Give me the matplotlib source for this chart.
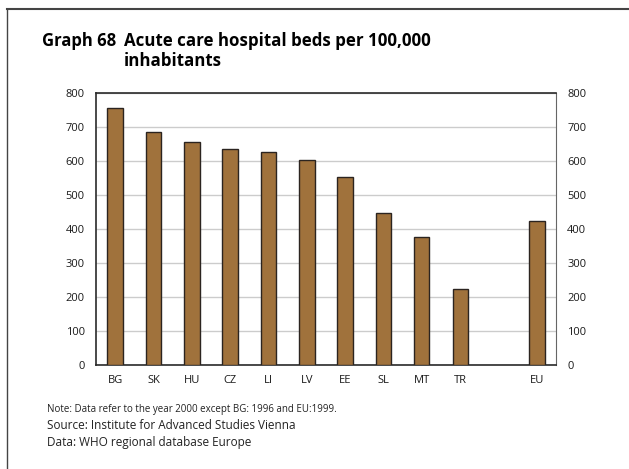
import matplotlib.pyplot as plt
import numpy as np

plt.rcParams['font.family'] = ['Open Sans', 'DejaVu Sans']

# bed counts per 100,000 inhabitants
countries = ["BG", "SK", "HU", "CZ", "LI", "LV", "EE", "SL", "MT", "TR", "EU"]
beds = [755, 686, 657, 636, 625, 602, 554, 448, 376, 223, 424]
slots = [0, 1, 2, 3, 4, 5, 6, 7, 8, 9, 11]  # gap before EU
yticks = [0, 100, 200, 300, 400, 500, 600, 700, 800]

fig = plt.figure(figsize=(6.29, 4.69), dpi=100)
ax = fig.add_axes([96 / 629, 1 - 365 / 469, 460 / 629, 272 / 469])

ax.bar(slots, beds, width=0.4, color="#a0723c", edgecolor="#2b2420", linewidth=1.0, zorder=3)

ax.set_xlim(-0.5, 11.5)
ax.set_ylim(0, 800)
ax.set_xticks(slots)
ax.set_xticklabels(countries)
ax.set_yticks(yticks)
ax.tick_params(axis="both", length=0, labelsize=8, colors="#1a1a1a")
ax.tick_params(axis="x", pad=7)
ax.tick_params(axis="y", pad=8, labelright=True)
ax.grid(axis="y", color="#cccccc", linewidth=1.0, zorder=0)

for side in ["top", "bottom", "left"]:
    ax.spines[side].set_color("#2a2a2a")
    ax.spines[side].set_linewidth(1.2)
ax.spines["right"].set_color("#666666")

# frame around the figure (left and top only)
fig.add_artist(plt.Line2D([7 / 629, 7 / 629], [0, 1 - 9 / 469], color="#444444", linewidth=1.0))
fig.add_artist(plt.Line2D([7 / 629, 1], [1 - 9 / 469, 1 - 9 / 469], color="#444444", linewidth=1.5))

fig.text(42 / 629, 1 - 41 / 469, "Graph 68", fontsize=12, fontweight="bold", va="center")
fig.text(124 / 629, 1 - 41 / 469, "Acute care hospital beds per 100,000", fontsize=12.2,
         fontweight="bold", va="center")
fig.text(124 / 629, 1 - 61 / 469, "inhabitants", fontsize=12.2, fontweight="bold", va="center")

fig.text(47 / 629, 1 - 409 / 469, "Note: Data refer to the year 2000 except BG: 1996 and EU:1999.",
         fontsize=7, va="center", color="#222222")
fig.text(47 / 629, 1 - 425 / 469, "Source: Institute for Advanced Studies Vienna",
         fontsize=8.5, va="center", color="#222222")
fig.text(47 / 629, 1 - 442 / 469, "Data: WHO regional database Europe",
         fontsize=8.5, va="center", color="#222222")

fig.savefig("out.png", dpi=100)
